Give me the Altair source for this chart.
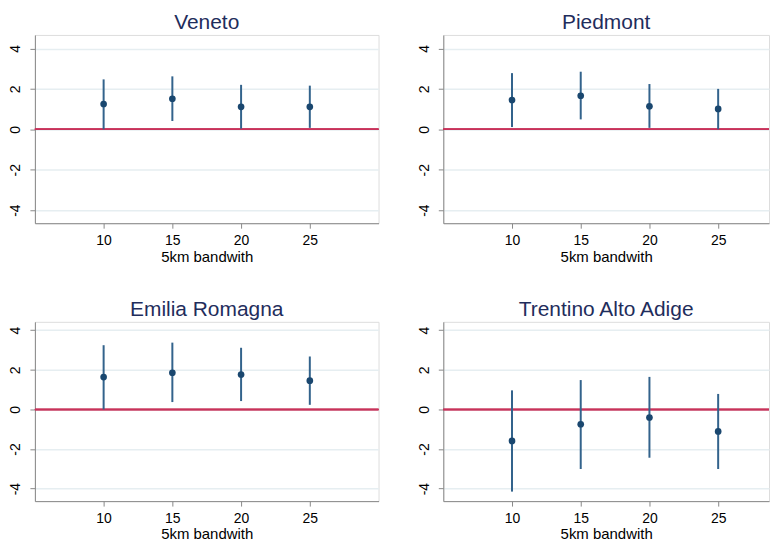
import altair as alt
import pandas as pd

bandwidths = [10, 15, 20, 25]
regions = ["Veneto", "Piedmont", "Emilia Romagna", "Trentino Alto Adige"]

veneto_est = [1.25, 1.51, 1.11, 1.11]
veneto_lo = [0.00, 0.41, 0.03, 0.07]
veneto_hi = [2.47, 2.62, 2.20, 2.16]

piedmont_est = [1.45, 1.66, 1.14, 1.01]
piedmont_lo = [0.11, 0.49, 0.07, 0.00]
piedmont_hi = [2.78, 2.85, 2.24, 2.00]

emilia_est = [1.63, 1.85, 1.76, 1.45]
emilia_lo = [0.00, 0.37, 0.42, 0.23]
emilia_hi = [3.24, 3.37, 3.11, 2.67]

trentino_est = [-1.59, -0.75, -0.41, -1.11]
trentino_lo = [-4.15, -3.01, -2.44, -3.01]
trentino_hi = [0.96, 1.48, 1.64, 0.78]

series = {
    "Veneto": (veneto_est, veneto_lo, veneto_hi),
    "Piedmont": (piedmont_est, piedmont_lo, piedmont_hi),
    "Emilia Romagna": (emilia_est, emilia_lo, emilia_hi),
    "Trentino Alto Adige": (trentino_est, trentino_lo, trentino_hi),
}

rows = []
for r in regions:
    est, lo, hi = series[r]
    for b, e, l, h in zip(bandwidths, est, lo, hi):
        rows.append({"region": r, "bw": b, "est": e, "lo": l, "hi": h})
df = pd.DataFrame(rows)

FONT = "Liberation Sans"
PT = "#1a476f"
BAR = "#33638c"
RED = "#c8325a"
GRID = "#e6eef1"


def panel(name, width, xmax, height, ydom):
    xs = alt.Scale(domain=[5, xmax], nice=False, zero=False)
    ys = alt.Scale(domain=ydom, nice=False, zero=False)
    xax = alt.Axis(values=bandwidths, title="5km bandwith", grid=False,
                   labelFontSize=14, titleFontSize=15, labelPadding=5,
                   titlePadding=2, titleFontWeight="normal")
    yax = alt.Axis(values=[-4, -2, 0, 2, 4], title=None, grid=True,
                   gridColor=GRID, gridWidth=1.5, labelAngle=270,
                   labelAlign="center", labelBaseline="bottom",
                   labelFontSize=14, labelPadding=7,
                   labelExpr="'' + datum.value")
    base = alt.Chart(df).transform_filter(alt.datum.region == name)
    zero = base.mark_rule(color=RED, strokeWidth=1.5).encode(
        y=alt.datum(0, scale=ys, axis=yax)
    )
    bars = base.mark_rule(color=BAR, strokeWidth=2).encode(
        x=alt.X("bw:Q", scale=xs, axis=xax),
        y=alt.Y("lo:Q", scale=ys, axis=yax),
        y2="hi:Q",
    )
    pts = base.mark_circle(color=PT, size=45, opacity=1).encode(
        x=alt.X("bw:Q", scale=xs, axis=xax),
        y=alt.Y("est:Q", scale=ys, axis=yax),
    )
    return alt.layer(zero, bars, pts).properties(
        width=width, height=height,
        title=alt.TitleParams(name, fontSize=21, color="#1f2d5c",
                              fontWeight="normal", font=FONT, offset=2,
                              anchor="middle"),
    )


top = alt.hconcat(
    panel("Veneto", 345, 30, 189, [-4.65, 4.67]),
    panel("Piedmont", 327, 28.7, 189, [-4.65, 4.67]),
    spacing=36,
)
bottom = alt.hconcat(
    panel("Emilia Romagna", 345, 30, 180, [-4.63, 4.42]),
    panel("Trentino Alto Adige", 327, 28.7, 180, [-4.63, 4.42]),
    spacing=36,
)

chart = alt.vconcat(top, bottom, spacing=33).properties(
    padding={"top": 2, "left": 0, "right": 0, "bottom": 0}
).configure_view(stroke=None).configure_axis(
    domainColor="#000000", tickColor="#000000", tickSize=6,
    labelColor="#222222", titleColor="#222222", labelFont=FONT,
    titleFont=FONT, domainWidth=1.2, tickWidth=1.2
).configure(background="white")

chart.save("out.html", embed_options={"renderer": "svg", "actions": False})
